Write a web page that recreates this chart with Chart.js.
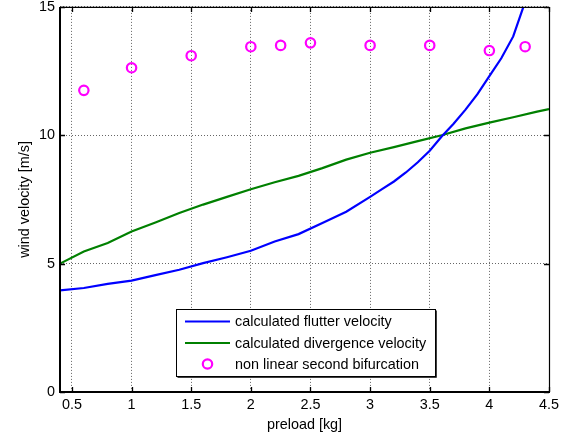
<!DOCTYPE html>
<html>
<head>
<meta charset="utf-8">
<script src="https://cdn.jsdelivr.net/npm/chart.js@4/dist/chart.umd.min.js"></script>
<style>
  html, body { margin: 0; padding: 0; background: #fff; }
  #wrap { width: 586px; height: 439px; }
</style>
</head>
<body>
<div id="wrap"><canvas id="c" width="586" height="439"></canvas></div>
<script>
// ---- data ----
const flutterPreload = [0.4, 0.6, 0.8, 1.0, 1.2, 1.4, 1.6, 1.8, 2.0, 2.2, 2.4, 2.6, 2.8, 3.0, 3.1, 3.2, 3.3, 3.4, 3.5, 3.6, 3.7, 3.8, 3.9, 4.0, 4.1, 4.2, 4.3];
const flutterVelocity = [3.96, 4.05, 4.21, 4.34, 4.55, 4.76, 5.02, 5.25, 5.5, 5.86, 6.15, 6.58, 7.02, 7.6, 7.9, 8.2, 8.55, 8.95, 9.4, 9.95, 10.45, 11.0, 11.6, 12.3, 13.0, 13.85, 15.2];

const divergencePreload = [0.4, 0.6, 0.8, 1.0, 1.2, 1.4, 1.6, 1.8, 2.0, 2.2, 2.4, 2.6, 2.8, 3.0, 3.2, 3.4, 3.6, 3.8, 4.0, 4.2, 4.4, 4.5];
const divergenceVelocity = [5.0, 5.47, 5.8, 6.25, 6.6, 6.97, 7.3, 7.6, 7.9, 8.17, 8.42, 8.72, 9.05, 9.32, 9.54, 9.77, 10.0, 10.27, 10.49, 10.7, 10.92, 11.02];

const bifurcationPreload = [0.6, 1.0, 1.5, 2.0, 2.25, 2.5, 3.0, 3.5, 4.0, 4.3];
const bifurcationVelocity = [11.75, 12.63, 13.1, 13.45, 13.5, 13.6, 13.5, 13.5, 13.3, 13.45];

const xTickValues = [0.5, 1, 1.5, 2, 2.5, 3, 3.5, 4, 4.5];
const yTickValues = [0, 5, 10, 15];

const seriesLabels = ['calculated flutter velocity', 'calculated divergence velocity', 'non linear second bifurcation'];
const xTitle = 'preload [kg]';
const yTitle = 'wind velocity [m/s]';

const toPoints = (xs, ys) => xs.map((x, i) => ({ x: x, y: ys[i] }));
const FONT = 'Liberation Sans, Arial, sans-serif';

// ---- plugin: box, inward ticks, legend ----
const framePlugin = {
  id: 'frame',
  afterDraw(chart) {
    const ctx = chart.ctx;
    const a = chart.chartArea;
    const xs = chart.scales.x, ys = chart.scales.y;
    ctx.save();
    ctx.strokeStyle = '#000';
    ctx.lineWidth = 1.2;
    ctx.beginPath();
    ctx.moveTo(a.left, a.top + 0.5); ctx.lineTo(a.right, a.top + 0.5);
    ctx.moveTo(a.right + 0.5, a.top); ctx.lineTo(a.right + 0.5, a.bottom);
    ctx.stroke();
    ctx.lineWidth = 2;
    ctx.beginPath();
    ctx.moveTo(a.left, a.top); ctx.lineTo(a.left, a.bottom + 1);
    ctx.moveTo(a.left - 1, a.bottom); ctx.lineTo(a.right + 1, a.bottom);
    ctx.stroke();
    ctx.lineWidth = 1.3;
    const tl = 5;
    ctx.beginPath();
    xTickValues.forEach(v => {
      const px = Math.round(xs.getPixelForValue(v)) + 0.5;
      ctx.moveTo(px, a.bottom); ctx.lineTo(px, a.bottom - tl);
      ctx.moveTo(px, a.top); ctx.lineTo(px, a.top + tl);
    });
    yTickValues.forEach(v => {
      const py = Math.round(ys.getPixelForValue(v)) + 0.5;
      ctx.moveTo(a.left, py); ctx.lineTo(a.left + tl, py);
      ctx.moveTo(a.right, py); ctx.lineTo(a.right - tl, py);
    });
    ctx.stroke();

    // legend box
    const bx = 176.5, by = 309.5, bw = 259, bh = 67;
    ctx.fillStyle = '#fff';
    ctx.fillRect(bx, by, bw, bh);
    ctx.lineWidth = 1;
    ctx.strokeStyle = '#000';
    ctx.strokeRect(bx, by, bw, bh);
    ctx.lineWidth = 1.5;
    ctx.beginPath();
    ctx.moveTo(bx + bw + 0.5, by + 1); ctx.lineTo(bx + bw + 0.5, by + bh + 0.5);
    ctx.lineTo(bx + 1, by + bh + 0.5);
    ctx.stroke();

    const rows = [321.5, 343, 364];
    ctx.font = '14.4px ' + FONT;
    ctx.textBaseline = 'middle';
    ctx.textAlign = 'left';
    chart.data.datasets.forEach((ds, i) => {
      const y = rows[i];
      ctx.strokeStyle = ds.borderColor;
      ctx.lineWidth = ds.borderWidth;
      ctx.beginPath();
      if (ds.showLine) {
        ctx.moveTo(185, y); ctx.lineTo(230, y);
      } else {
        ctx.arc(207.5, y, ds.pointRadius, 0, Math.PI * 2);
      }
      ctx.stroke();
      ctx.fillStyle = '#000';
      ctx.fillText(ds.label, 235, y + 1);
    });
    ctx.restore();
  }
};

new Chart(document.getElementById('c'), {
  type: 'scatter',
  data: {
    datasets: [
      {
        label: seriesLabels[0],
        data: toPoints(flutterPreload, flutterVelocity),
        showLine: true,
        borderColor: '#0000ff',
        backgroundColor: '#0000ff',
        borderWidth: 2.2,
        pointRadius: 0,
        tension: 0,
        order: 2
      },
      {
        label: seriesLabels[1],
        data: toPoints(divergencePreload, divergenceVelocity),
        showLine: true,
        borderColor: '#008000',
        backgroundColor: '#008000',
        borderWidth: 2.2,
        pointRadius: 0,
        tension: 0,
        order: 3
      },
      {
        label: seriesLabels[2],
        data: toPoints(bifurcationPreload, bifurcationVelocity),
        showLine: false,
        borderColor: '#ff00ff',
        backgroundColor: 'rgba(0,0,0,0)',
        borderWidth: 2.2,
        pointRadius: 4.7,
        pointStyle: 'circle',
        order: 1
      }
    ]
  },
  plugins: [framePlugin],
  options: {
    responsive: false,
    animation: false,
    events: [],
    layout: { padding: { left: 0, right: 37, top: 6, bottom: 0 } },
    plugins: {
      legend: { display: false },
      tooltip: { enabled: false },
      title: { display: false }
    },
    scales: {
      x: {
        type: 'linear',
        min: 0.4,
        max: 4.5,
        afterBuildTicks: (s) => { s.ticks = xTickValues.map(v => ({ value: v })); },
        afterFit: (s) => { s.height = 47; s.paddingLeft = 0; s.paddingRight = 0; },
        ticks: {
          color: '#000',
          font: { family: FONT, size: 14.4 },
          padding: 4,
          maxRotation: 0,
          autoSkip: false,
          callback: (v) => String(v)
        },
        grid: { color: '#666', lineWidth: 1, drawTicks: false },
        border: { display: false, dash: [1, 2] },
        title: {
          display: true,
          text: xTitle,
          color: '#000',
          font: { family: FONT, size: 14.4 },
          padding: { top: 0, bottom: 5 }
        }
      },
      y: {
        type: 'linear',
        min: 0,
        max: 15,
        afterBuildTicks: (s) => { s.ticks = yTickValues.map(v => ({ value: v })); },
        afterFit: (s) => { s.width = 60; s.paddingTop = 0; s.paddingBottom = 0; },
        ticks: {
          color: '#000',
          font: { family: FONT, size: 14.4 },
          padding: 5,
          autoSkip: false,
          callback: (v) => String(v)
        },
        grid: { color: '#666', lineWidth: 1, drawTicks: false },
        border: { display: false, dash: [1, 2] },
        title: {
          display: true,
          text: yTitle,
          color: '#000',
          font: { family: FONT, size: 14.4 },
          padding: { top: 16, bottom: 0 }
        }
      }
    }
  }
});
</script>
</body>
</html>
